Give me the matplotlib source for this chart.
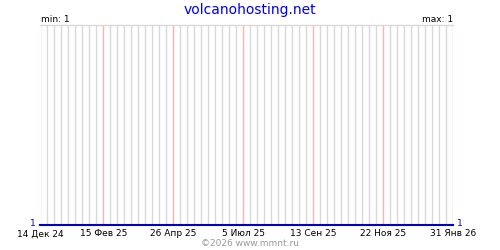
import numpy as np
import matplotlib
matplotlib.use('Agg')
import matplotlib.pyplot as plt
import matplotlib.dates as mdates
from datetime import datetime, timedelta

#%% data
title = 'volcanohosting.net'
dates = ['2024-12-14', '2026-01-31']
values = [1, 1]
tick_dates = ['2024-12-14', '2025-02-15', '2025-04-26', '2025-07-05',
              '2025-09-13', '2025-11-22', '2026-01-31']
tick_labels = ['14 Дек 24', '15 Фев 25', '26 Апр 25', '5 Июл 25',
               '13 Сен 25', '22 Ноя 25', '31 Янв 26']
vmin = 1
vmax = 1
footer = '©2026 www.mmnt.ru'

#%%
plt.rcParams['font.family'] = ['DejaVu Sans']
d = [datetime.strptime(s, '%Y-%m-%d') for s in dates]
td = [datetime.strptime(s, '%Y-%m-%d') for s in tick_dates]

fig = plt.figure(figsize=(5, 2.5), dpi=100)
# shifted half a pixel so 1px grid lines land on pixel centres
ax = fig.add_axes([40.5/500, 25/250, 413/500, 200/250])

# weekly grid
wk = mdates.WeekdayLocator(byweekday=mdates.SA, interval=1)
ax.xaxis.set_minor_locator(wk)
ax.grid(True, which='minor', axis='x', color='#d8d8d8', linewidth=1, zorder=1)
for t in td:
    ax.axvline(t, color='#ffb0b0', linewidth=1, zorder=2)

ax.plot(d, values, color='#0000cc', linewidth=1.5, zorder=3, clip_on=False)

ax.set_xlim(d[0], d[-1])
ax.set_ylim(vmin, vmin + 1)
ax.set_yticks([])
ax.set_xticks(td)
ax.set_xticklabels(tick_labels, fontsize=6.5)
ax.tick_params(axis='x', which='both', length=0, pad=3)
for s in ['left', 'right', 'bottom']:
    ax.spines[s].set_visible(False)
ax.spines['top'].set_color('#d8d8d8')
ax.spines['top'].set_linewidth(1)

fig.text(0.5, 1 - 10/250, title, color='#0000ee', fontsize=10,
         ha='center', va='center')
fig.text(41/500, 1 - 19/250, 'min: %d' % vmin, fontsize=6.5, ha='left', va='center')
fig.text(453/500, 1 - 19/250, 'max: %d' % vmax, fontsize=6.5, ha='right', va='center')
fig.text(36/500, 1 - 223/250, str(values[0]), color='#0000cc', fontsize=6.5,
         ha='right', va='center')
fig.text(457/500, 1 - 223/250, str(values[-1]), color='#0000cc', fontsize=6.5,
         ha='left', va='center')
fig.text(0.5, 1 - 243/250, footer, color='#999999', fontsize=6.5,
         ha='center', va='center')

plt.savefig('out.png', dpi=100)
